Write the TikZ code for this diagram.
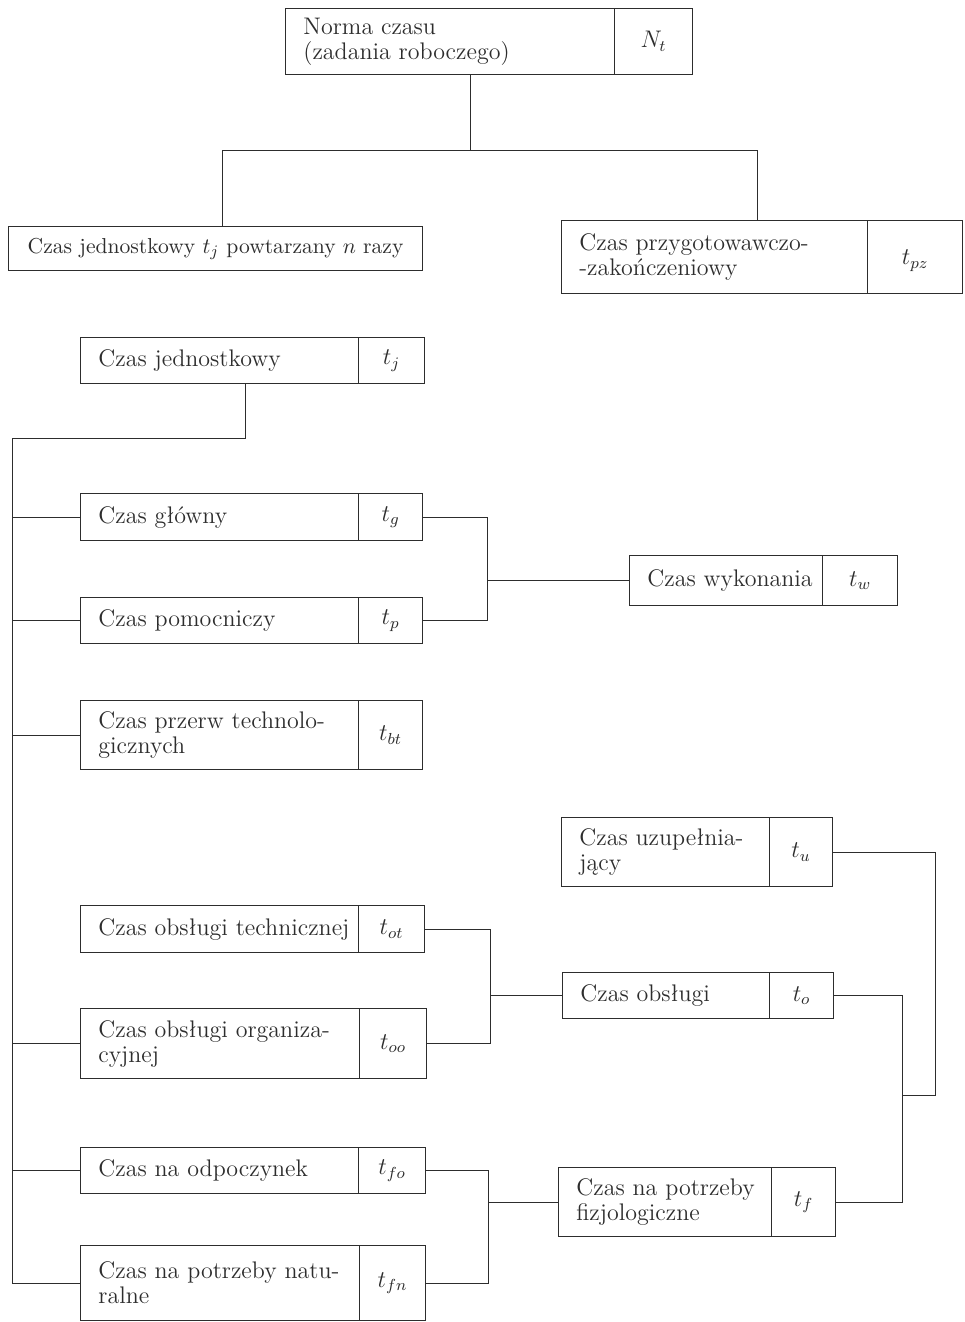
\documentclass[tikz,border=0pt]{standalone}
\usepackage{fontspec}
\definecolor{ink}{RGB}{45,45,45}
\newcommand\mkL[6]{%
  \node[cell, minimum width=#4*0.5pt, minimum height=#5*0.5pt] (#1) at (#2,#3) {};
  \node[txt] (#1-t) at ([xshift=9pt]#1.west) {#6};}
\newcommand\mkR[6]{%
  \node[cell, minimum width=#4*0.5pt, minimum height=#5*0.5pt] (#1) at (#2,#3) {#6};}
\begin{document}
\begin{tikzpicture}[x=0.5pt,y=-0.5pt,
  every node/.style={text=ink, font=\fontsize{12}{12.5}\selectfont},
  cell/.style={draw=ink, line width=0.6pt, rectangle, anchor=north west, inner sep=0pt},
  txt/.style={anchor=west, align=left, inner sep=0pt},
  link/.style={draw=ink, line width=0.5pt}]
\useasboundingbox (0,0) rectangle (964,1322);
% top
\mkL{norma}{285}{8}{329}{66}{Norma czasu\\(zadania roboczego)}
\mkR{nt}{614}{8}{78}{66}{\raisebox{-4pt}{$N_t$}}
\node[cell, minimum width=207pt, minimum height=22pt, font=\fontsize{10.8}{12}\selectfont] (jp) at (8,226) {Czas jednostkowy $t_j$ powtarzany $n$ razy};
\mkL{prz}{561}{220}{306}{73}{Czas przygotowawczo-\\-zakończeniowy}
\mkR{tpz}{867}{220}{95}{73}{\raisebox{-11pt}{$t_{pz}$}}
\mkL{tj}{80}{337}{278}{46}{Czas jednostkowy}
\mkR{tjs}{358}{337}{66}{46}{$t_j$}
% left column
\mkL{tg}{80}{493}{278}{47}{Czas główny}
\mkR{tgs}{358}{493}{64}{47}{$t_g$}
\mkL{tp}{80}{597}{278}{46}{Czas pomocniczy}
\mkR{tps}{358}{597}{64}{46}{$t_p$}
\mkL{tbt}{80}{700}{278}{69}{Czas przerw technolo-\\gicznych}
\mkR{tbts}{358}{700}{64}{69}{$t_{bt}$}
\mkL{tot}{80}{905}{278}{47}{Czas obsługi technicznej}
\mkR{tots}{358}{905}{66}{47}{$t_{ot}$}
\mkL{too}{80}{1008}{279}{70}{Czas obsługi organiza-\\cyjnej}
\mkR{toos}{359}{1008}{67}{70}{$t_{oo}$}
\mkL{tfo}{80}{1147}{278}{46}{Czas na odpoczynek}
\mkR{tfos}{358}{1147}{67}{46}{$t_{fo}$}
\mkL{tfn}{80}{1245}{279}{75}{Czas na potrzeby natu-\\ralne}
\mkR{tfns}{359}{1245}{66}{75}{$t_{fn}$}
% right column
\mkL{tw}{629}{555}{193}{50}{Czas wykonania}
\mkR{tws}{822}{555}{75}{50}{$t_w$}
\mkL{tu}{561}{817}{208}{69}{Czas uzupełnia-\\jący}
\mkR{tus}{769}{817}{63}{69}{$t_u$}
\mkL{to}{562}{972}{207}{46}{Czas obsługi}
\mkR{tos}{769}{972}{64}{46}{$t_o$}
\mkL{tf}{558}{1167}{213}{69}{Czas na potrzeby\\fizjologiczne}
\mkR{tfs}{771}{1167}{64}{69}{$t_f$}
% connectors top
\coordinate (jn) at (470,150);
\coordinate (pzx) at (757,150);
\coordinate (jpx) at (222,150);
\draw[link] (jn |- norma.south) -- (jn);
\draw[link] (jpx |- jp.north) -- (jpx) -- (pzx) -- (pzx |- prz.north);
% spine
\coordinate (tjd) at (245,438);
\coordinate (sp) at (12,438);
\draw[link] (tjd |- tj.south) -- (tjd) -- (sp) -- (sp |- tfn.west) -- (tfn.west);
\draw[link] (sp |- tg.west) -- (tg.west);
\draw[link] (sp |- tp.west) -- (tp.west);
\draw[link] (sp |- tbt.west) -- (tbt.west);
\draw[link] (sp |- too.west) -- (too.west);
\draw[link] (sp |- tfo.west) -- (tfo.west);
% groups
\coordinate (b1) at (487,0);
\draw[link] (tgs.east) -- (tgs.east -| b1) -- (tps.east -| b1) -- (tps.east);
\draw[link] (b1 |- tw.west) -- (tw.west);
\coordinate (b2) at (490,0);
\draw[link] (tots.east) -- (tots.east -| b2) -- (toos.east -| b2) -- (toos.east);
\draw[link] (b2 |- to.west) -- (to.west);
\coordinate (b3) at (488,0);
\draw[link] (tfos.east) -- (tfos.east -| b3) -- (tfns.east -| b3) -- (tfns.east);
\draw[link] (b3 |- tf.west) -- (tf.west);
\coordinate (b4) at (902,0);
\draw[link] (tos.east) -- (tos.east -| b4) -- (tfs.east -| b4) -- (tfs.east);
\coordinate (m) at (935,1095);
\draw[link] (tus.east) -- (tus.east -| m) -- (m) -- (b4 |- m);
\end{tikzpicture}
\end{document}
